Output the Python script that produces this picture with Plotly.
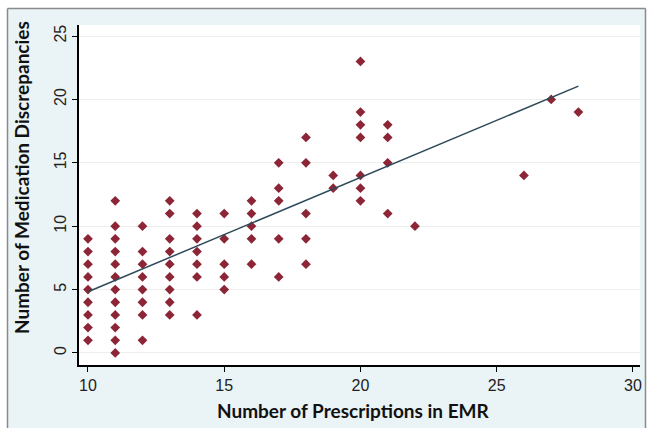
import plotly.graph_objects as go

# Data (x = prescriptions in EMR, y = medication discrepancies)
prescriptions = (
    [10] * 9 + [11] * 12 + [12] * 8 + [13] * 9 + [14] * 7 + [15] * 5 + [16] * 5 +
    [17] * 5 + [18] * 5 + [19] * 2 + [20] * 7 + [21] * 4 + [22, 26, 27, 28]
)
discrepancies = (
    [1, 2, 3, 4, 5, 6, 7, 8, 9] +
    [0, 1, 2, 3, 4, 5, 6, 7, 8, 9, 10, 12] +
    [1, 3, 4, 5, 6, 7, 8, 10] +
    [3, 4, 5, 6, 7, 8, 9, 11, 12] +
    [3, 6, 7, 8, 9, 10, 11] +
    [5, 6, 7, 9, 11] +
    [7, 9, 10, 11, 12] +
    [6, 9, 12, 13, 15] +
    [7, 9, 11, 15, 17] +
    [13, 14] +
    [12, 13, 14, 17, 18, 19, 23] +
    [11, 15, 17, 18] +
    [10, 14, 20, 19]
)
fit_x = [10, 28]
fit_y = [4.83, 21.05]

x_ticks = [10, 15, 20, 25, 30]
y_ticks = [0, 5, 10, 15, 20, 25]

fig = go.Figure()
fig.add_trace(go.Scatter(
    x=prescriptions, y=discrepancies, mode="markers",
    marker=dict(symbol="diamond", size=7.5, color="#8c2636", line=dict(width=0)),
    showlegend=False, hoverinfo="x+y"))
fig.add_trace(go.Scatter(
    x=fit_x, y=fit_y, mode="lines",
    line=dict(color="#2e4a5a", width=1.5), showlegend=False))

W, H = 647, 428
L, R, T, B = 79, 7, 25, 63
pw, ph = W - L - R, H - T - B

def px_x(p):
    return (p - L) / pw

def px_y(p):
    return (H - B - p) / ph

# white outer strips (left / top / right) and the grey frame of the light-blue panel
frame = "#8a8a8a"
fig.add_shape(type="rect", xref="paper", yref="paper", layer="below",
              x0=px_x(0), x1=px_x(7.5), y0=px_y(430), y1=px_y(0),
              fillcolor="white", line=dict(width=0))
fig.add_shape(type="rect", xref="paper", yref="paper", layer="below",
              x0=px_x(0), x1=px_x(647), y0=px_y(8.5), y1=px_y(0),
              fillcolor="white", line=dict(width=0))
fig.add_shape(type="rect", xref="paper", yref="paper", layer="below",
              x0=px_x(645.5), x1=px_x(647), y0=px_y(430), y1=px_y(0),
              fillcolor="white", line=dict(width=0))
fig.add_shape(type="line", xref="paper", yref="paper",
              x0=px_x(7.5), x1=px_x(7.5), y0=px_y(430), y1=px_y(8.5),
              line=dict(color=frame, width=1.5))
fig.add_shape(type="line", xref="paper", yref="paper",
              x0=px_x(7.5), x1=px_x(645.5), y0=px_y(8.5), y1=px_y(8.5),
              line=dict(color=frame, width=1.5))
fig.add_shape(type="line", xref="paper", yref="paper",
              x0=px_x(645.5), x1=px_x(645.5), y0=px_y(430), y1=px_y(8.5),
              line=dict(color=frame, width=1.5))

tick_font = dict(family="Liberation Sans, Arial, sans-serif", size=16, color="#222222")

fig.update_layout(
    width=W, height=H,
    margin=dict(l=L, r=R, t=T, b=B, pad=0),
    paper_bgcolor="#eaf3f5", plot_bgcolor="white",
    font=tick_font,
    xaxis=dict(range=[9.67, 30.26], tickvals=x_ticks, ticks="outside", ticklen=5,
               tickcolor="black", showline=True, linecolor="black", linewidth=1.5,
               showgrid=False, zeroline=False, fixedrange=True, tickfont=tick_font,
               automargin=False),
    yaxis=dict(range=[-0.95, 25.87], tickvals=y_ticks, ticks="outside", ticklen=5,
               tickcolor="black", showline=True, linecolor="black", linewidth=1.5,
               showgrid=True, gridcolor="#eeeeee", gridwidth=1, zeroline=False,
               tickangle=-90, fixedrange=True, tickfont=tick_font, automargin=False),
    annotations=[
        dict(text="<b>Number of Prescriptions in EMR</b>", xref="paper", yref="paper",
             x=px_x(353), y=px_y(410), xanchor="center", yanchor="middle",
             showarrow=False,
             font=dict(family="Lato, sans-serif", size=19, color="#111111")),
        dict(text="<b>Number of Medication Discrepancies</b>", xref="paper", yref="paper",
             x=px_x(22), y=px_y(178), xanchor="center", yanchor="middle",
             showarrow=False, textangle=-90,
             font=dict(family="Lato, sans-serif", size=19, color="#111111")),
    ],
)

fig.write_html("out.html", config={"displayModeBar": False},
               post_script="document.body.style.margin='0';")
